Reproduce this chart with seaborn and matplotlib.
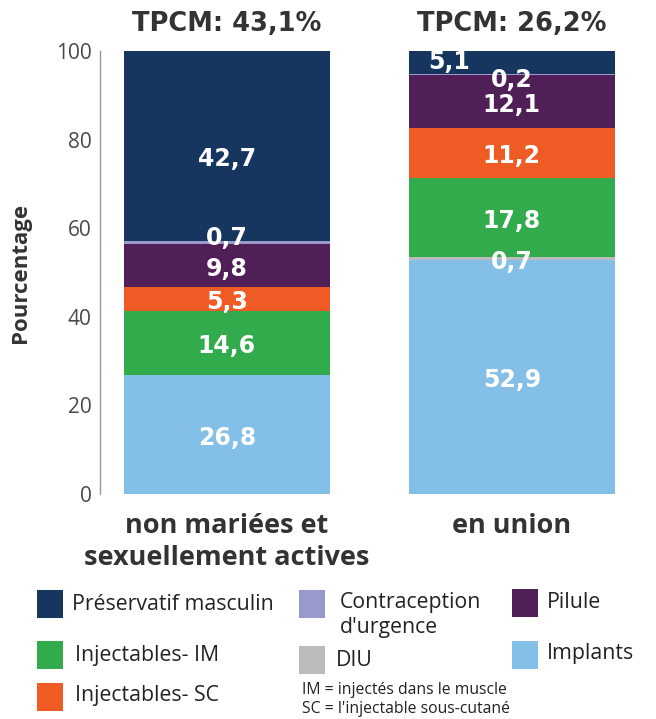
import numpy as np
import matplotlib.pyplot as plt
import pandas as pd
import seaborn as sns
from matplotlib.patches import Rectangle

# data (bottom to top of the stack)
groups = ["non mariées et\nsexuellement actives", "en union"]
tpcm = ["TPCM: 43,1%", "TPCM: 26,2%"]
methods = ["Implants", "DIU", "Injectables- IM", "Injectables- SC", "Pilule",
           "Contraception\nd'urgence", "Préservatif masculin"]
implants = [26.8, 52.9]
diu = [0.0, 0.7]
inj_im = [14.6, 17.8]
inj_sc = [5.3, 11.2]
pilule = [9.8, 12.1]
urgence = [0.7, 0.2]
preservatif = [42.7, 5.1]

colors = ["#84BFE8", "#BBBCBE", "#31AB4B", "#EE5B24", "#511F57", "#9999CC", "#17365F"]

values = [implants, diu, inj_im, inj_sc, pilule, urgence, preservatif]
df = pd.DataFrame(values, index=methods, columns=groups).T
cum = df.cumsum(axis=1)

sns.set_style("white")
plt.rcParams['font.family'] = ['Open Sans', 'DejaVu Sans']

W, H = 656, 719
fig = plt.figure(figsize=(W / 100, H / 100), dpi=100)
ax = fig.add_axes([0.152, 0.313, 0.822, 0.616])

# stacked bars: draw cumulative totals from the top down
for m, c in reversed(list(zip(methods, colors))):
    d = pd.DataFrame({"group": groups, "val": cum[m].values})
    sns.barplot(data=d, x="group", y="val", color=c, width=0.723,
                saturation=1, ax=ax, order=groups)

for p in ax.patches:
    p.set_edgecolor("none")

# value labels
for gi, g in enumerate(groups):
    for m in methods:
        v = df.loc[g, m]
        if v <= 0:
            continue
        y = cum.loc[g, m] - v / 2 - 0.8
        x = gi
        if gi == 1 and m == "Préservatif masculin":
            x = gi - 0.22
            y = cum.loc[g, m] - v / 2 + 0.1
        if gi == 1 and m == "Contraception\nd'urgence":
            y -= 0.6
        if gi == 0 and m == "Contraception\nd'urgence":
            y += 1.8
        if gi == 0 and m == "Préservatif masculin":
            y -= 2.2
        ax.text(x, y, f"{v:.1f}".replace(".", ","), ha="center", va="center",
                color="white", fontsize=17, fontweight="bold",
                family="DejaVu Sans")

# TPCM headers
for gi, t in enumerate(tpcm):
    ax.text(gi, 106.0, t, ha="center", va="center", color="#333333",
            fontsize=18.5, fontweight="bold", family="DejaVu Sans", clip_on=False)

ax.set_xlim(-0.446, 1.446)
ax.set_ylim(0, 100)
ax.set_yticks([0, 20, 40, 60, 80, 100])
ax.tick_params(axis="y", labelsize=15, labelcolor="#4a4a4a", length=0, pad=6)
ax.tick_params(axis="x", length=0, pad=14)
ax.set_xticks([0, 1])
ax.set_xticklabels(groups, fontsize=19.5, fontweight="bold", color="#333333",
                   linespacing=1.3)
ax.set_xlabel("")
ax.set_ylabel("Pourcentage", fontsize=16, fontweight="bold", color="#333333",
              labelpad=18)
for s in ["top", "right", "bottom"]:
    ax.spines[s].set_visible(False)
ax.spines["left"].set_color("#999999")
ax.spines["left"].set_linewidth(1)

# legend, placed in pixel coordinates (3 columns)
cmap = dict(zip(methods, colors))
legend_items = [
    # label, patch x, patch top, text x, text y
    ("Préservatif masculin", 37, 590, 72, 605),
    ("Injectables- IM", 37, 641, 75, 655),
    ("Injectables- SC", 37, 683, 75, 695),
    ("Contraception\nd'urgence", 299, 590, 340, 615),
    ("DIU", 299, 646, 336, 660),
    ("Pilule", 512, 589, 547, 603),
    ("Implants", 512, 641, 547, 653),
]
for m, px, py, tx, ty in legend_items:
    fig.patches.append(Rectangle((px / W, 1 - (py + 28) / H), 26 / W, 28 / H,
                                 transform=fig.transFigure, facecolor=cmap[m],
                                 edgecolor="none"))
    fig.text(tx / W, 1 - ty / H, m, fontsize=15.3, color="#222222",
             va="center", ha="left", linespacing=1.2)

fig.text(302 / W, 1 - 690 / H, "IM = injectés dans le muscle", fontsize=11.3,
         color="#222222", va="center")
fig.text(302 / W, 1 - 709 / H, "SC = l'injectable sous-cutané", fontsize=11.3,
         color="#222222", va="center")

plt.savefig("out.png", dpi=100)
